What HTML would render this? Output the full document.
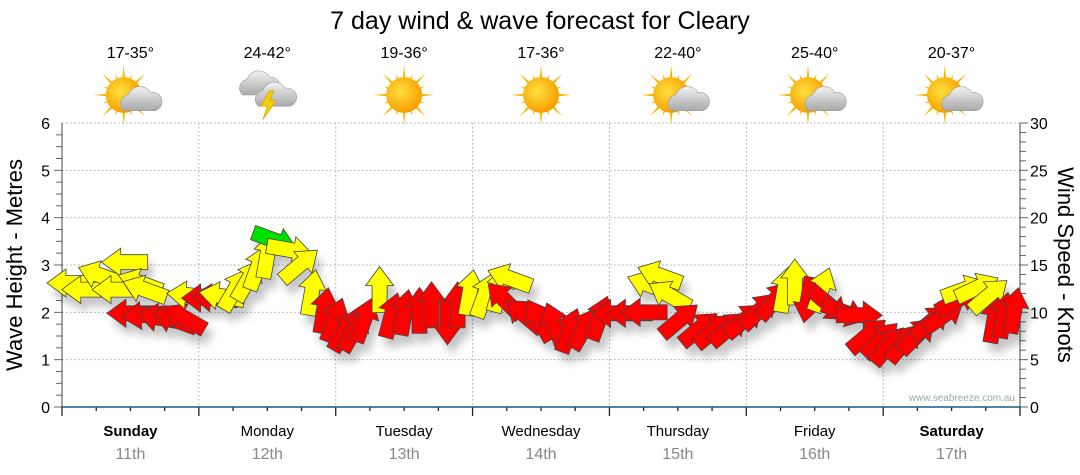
<!DOCTYPE html>
<html><head><meta charset="utf-8"><style>
body{margin:0;background:#fff;}
svg{display:block;font-family:"Liberation Sans",sans-serif;}
</style></head><body>
<svg id="c" width="1080" height="475" viewBox="0 0 1080 475">
<defs>
<filter id="sh" x="-50%" y="-50%" width="200%" height="200%"><feDropShadow dx="5" dy="9" stdDeviation="4" flood-color="#000" flood-opacity="0.22"/></filter>
<radialGradient id="sun" cx="40%" cy="40%" r="60%"><stop offset="0" stop-color="#ffe040"/><stop offset="1" stop-color="#f7a000"/></radialGradient>
<linearGradient id="cloud" x1="0" y1="0" x2="0" y2="1"><stop offset="0" stop-color="#f2f2f2"/><stop offset="1" stop-color="#a8a8a8"/></linearGradient>
</defs>
<text x="540" y="29" font-size="25" text-anchor="middle" fill="#000">7 day wind &amp; wave forecast for Cleary</text>
<g id="grid"></g>
<g id="axes"></g>
<g id="icons"></g>
<g id="arrows" filter="url(#sh)"></g>
<text x="1015" y="401" font-size="10" text-anchor="end" fill="#9aa">www.seabreeze.com.au</text>
<text transform="translate(22,265) rotate(-90)" font-size="22" text-anchor="middle">Wave Height - Metres</text>
<text transform="translate(1058,265) rotate(90)" font-size="22" text-anchor="middle">Wind Speed - Knots</text>
</svg>
<script>
const days=["Sunday","Monday","Tuesday","Wednesday","Thursday","Friday","Saturday"];
const dates=["11th","12th","13th","14th","15th","16th","17th"];
const temps=["17-35°","24-42°","19-36°","17-36°","22-40°","25-40°","20-37°"];
const iconTypes=["partly","storm","sun","sun","partly","partly","partly"];
const leftTicks=[0,1,2,3,4,5,6];
const rightTicks=[0,5,10,15,20,25,30];
const arrowHours=[1.4,4,6.7,9.3,11,13.7,14.5,11.9,14.5,17.2,19.8,21.5,22.4,25,26.8,28,30.3,32.6,34.3,36,37.3,39.9,41.7,43.8,46,47.8,49.6,51.3,53,55.7,57.8,60.1,62.7,64.8,67.6,69.4,71.5,74.1,76.7,78.5,77.6,81.1,83.7,86.4,89,91.6,94.3,96.9,99.5,102.1,103,104.8,106.5,108.3,111.8,114.4,117,119.7,122.3,125,126.7,128.5,130.8,133.2,134.5,137.2,139.8,141.3,143.6,145,147.7,150,152.4,154.7,157,158.2,160.5,162.6,163.5,165.2,167];
const arrowKnots=[13.1,12.4,13.9,12.4,15.3,13.1,12.4,9.9,9.7,9.4,9.2,9.4,11.8,11.5,11.5,11.7,12.4,13.4,14.7,16,17.6,16.6,15,12.1,10.2,9.2,8.1,8.1,9.2,12.4,9.7,10,10.2,10.8,9,10.8,12.1,11.8,12.4,13.6,11.3,9.7,9.2,8.7,8.1,8.3,9.4,9.9,9.9,10,12.9,13.9,11.8,9.2,8.3,8.1,8.3,9.2,10.2,11.3,12.4,13.2,11.3,12.4,10.8,10,9.7,7.6,7.1,6.5,6.8,7.6,9,9.7,11.3,12.4,12.6,11.8,9.2,9.7,10.2];
const arrowDirs=[180,180,200,180,180,200,200,180,175,190,200,210,185,180,185,190,-60,-60,-70,-80,20,10,-40,-80,-80,-70,-60,-60,-70,-90,-75,-80,-90,-90,90,-90,-80,-70,-75,200,-135,-140,-120,-110,-70,-60,-70,180,180,180,200,200,210,-40,-40,-40,-40,-40,-45,-50,-80,-90,100,-70,40,20,0,-40,-45,-50,-50,-45,-40,-35,-30,-20,-25,-40,-80,-80,-80];
const arrowColors=["Y","Y","Y","Y","Y","Y","Y","R","R","R","R","R","Y","R","R","Y","Y","Y","Y","Y","G","Y","Y","Y","R","R","R","R","R","Y","R","R","R","R","R","R","Y","Y","Y","Y","R","R","R","R","R","R","R","R","R","R","Y","Y","Y","R","R","R","R","R","R","R","Y","Y","R","Y","R","R","R","R","R","R","R","R","R","R","R","Y","Y","Y","R","R","R"];

const NS="http://www.w3.org/2000/svg";
const X0=62,X1=1020,Y0=407,Y1=123;
const xH=h=>X0+h*(X1-X0)/168;
const yM=m=>Y0-m*(Y0-Y1)/6;
const yK=k=>Y0-k*(Y0-Y1)/30;
function mk(tag,attrs,parent){const e=document.createElementNS(NS,tag);for(const k in attrs)e.setAttribute(k,attrs[k]);parent.appendChild(e);return e;}
const grid=document.getElementById('grid'),axes=document.getElementById('axes'),icons=document.getElementById('icons'),arr=document.getElementById('arrows');

leftTicks.forEach(v=>{
  if(v>0){const l=mk('line',{x1:X0,x2:X1,y1:yM(v),y2:yM(v),stroke:'#aaa','stroke-dasharray':'1.5,2.5'},grid);
  
  }
  const t=mk('text',{x:50,y:yM(v)+6,'font-size':16,'text-anchor':'end'},axes);t.textContent=v;
  
  
});
rightTicks.forEach(v=>{
  const t=mk('text',{x:1030,y:yK(v)+6,'font-size':16},axes);t.textContent=v;
  
  
});
for(let i=0;i<24;i++){const y=yM(i/4);mk('line',{x1:X0-(i%4?6:8),x2:X0,y1:y,y2:y,stroke:'#666'},axes);}
for(let i=0;i<=30;i++){const y=yK(i);mk('line',{x1:X1,x2:X1+(i%5?6:8),y1:y,y2:y,stroke:'#666'},axes);}
mk('line',{x1:X0,x2:X0,y1:Y1,y2:Y0,stroke:'#444'},axes);
mk('line',{x1:X1,x2:X1,y1:Y1,y2:Y0,stroke:'#444'},axes);
for(let d=1;d<7;d++){const l=mk('line',{x1:xH(d*24),x2:xH(d*24),y1:Y1,y2:Y0,stroke:'#aaa','stroke-dasharray':'1.5,2.5'},grid);
  
  }
for(let i=0;i<=28;i++){mk('line',{x1:xH(i*6),x2:xH(i*6),y1:Y0,y2:Y0+(i%4?4:9),stroke:'#222','stroke-width':1.3},axes);}
mk('line',{x1:X0,x2:X1,y1:Y0,y2:Y0,stroke:'#1a5a80','stroke-width':1.5},axes);

days.forEach((d,i)=>{
  const cx=xH(i*24+12);
  const t=mk('text',{x:cx,y:436,'font-size':15,'text-anchor':'middle','font-weight':(i==0||i==6)?'bold':'normal'},axes);t.textContent=d;
  
  
  const t2=mk('text',{x:cx,y:459,'font-size':16,'text-anchor':'middle',fill:'#888'},axes);t2.textContent=dates[i];
  
  
  const t3=mk('text',{x:cx,y:58,'font-size':16,'text-anchor':'middle'},icons);t3.textContent=temps[i];
  
  
  const g=mk('g',{transform:`translate(${cx},95) scale(1.12)`},icons);
  
  
  const ty=iconTypes[i];
  if(ty!=='storm'){
    const sx=ty==='sun'?0:-6;
    for(let r=0;r<16;r++){const a=r*Math.PI/8,L=r%2?20:27;
      mk('polygon',{points:`${sx+Math.cos(a-0.12)*12},${Math.sin(a-0.12)*12} ${sx+Math.cos(a)*L},${Math.sin(a)*L} ${sx+Math.cos(a+0.12)*12},${Math.sin(a+0.12)*12}`,fill:'#f5b800'},g);}
    mk('circle',{cx:sx,cy:0,r:16,fill:'url(#sun)'},g);
  }
  if(ty==='partly'){
    mk('path',{d:'M-6,14 a8,8 0 0 1 4,-14 a11,11 0 0 1 20,-2 a8,8 0 0 1 4,16 z',fill:'url(#cloud)',stroke:'#999','stroke-width':0.5},g);
  }
  if(ty==='storm'){
    mk('path',{d:'M-22,0 a8,8 0 0 1 4,-14 a11,11 0 0 1 20,-2 a8,8 0 0 1 2,16 z',fill:'url(#cloud)',stroke:'#999','stroke-width':0.5},g);
    mk('path',{d:'M-8,10 a8,8 0 0 1 4,-14 a11,11 0 0 1 20,-2 a8,8 0 0 1 4,16 z',fill:'url(#cloud)',stroke:'#999','stroke-width':0.5},g);
    mk('polygon',{points:'2,-4 -6,10 0,10 -4,22 8,5 2,5 6,-4',fill:'#f5d000',stroke:'#c90','stroke-width':0.5},g);
  }
});

const cols={Y:'#ffff00',R:'#ff0000',G:'#00e000'};
arrowHours.forEach((h,i)=>{
  const p=mk('path',{d:'M-23,-7.5 L4,-7.5 L4,-14 L23,0 L4,14 L4,7.5 L-23,7.5 Z',fill:cols[arrowColors[i]],stroke:'#444','stroke-width':0.8,'stroke-linejoin':'miter',
    transform:`translate(${xH(h).toFixed(1)},${yK(arrowKnots[i]).toFixed(1)}) rotate(${arrowDirs[i]})`},arr);
  
  
});
</script>
</body></html>
